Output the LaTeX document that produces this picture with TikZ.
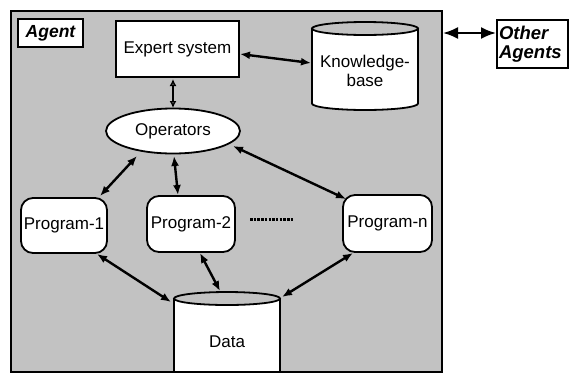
\documentclass[tikz,border=0pt]{standalone}
\usepackage{fontspec}
\setmainfont{Liberation Sans}
\usetikzlibrary{arrows.meta,shapes.geometric}
\begin{document}
\begin{tikzpicture}[x=1pt,y=-1pt,
  txt/.style={font=\fontsize{17}{18.5}\selectfont},
  lbl/.style={font=\fontsize{17.5}{17}\selectfont\bfseries\itshape},
  boxw/.style={draw,line width=1.8pt,fill=white},
  prog/.style={boxw,rounded corners=12pt,inner sep=0pt,txt},
  link/.style={line width=2.4pt,{Latex[length=10pt,width=8pt]}-{Latex[length=10pt,width=8pt]}},
  thinlink/.style={line width=1.4pt,{Latex[open,length=7pt,width=7pt]}-{Latex[open,length=7pt,width=7pt]}},
  biglink/.style={line width=2.2pt,{Latex[length=15pt,width=12pt]}-{Latex[length=15pt,width=12pt]}},
  bg/.style={fill=black!24}]
\useasboundingbox (0,0) rectangle (569,373);
% agent frame
\draw[bg,line width=1.8pt] (11,11) rectangle (442,372);
\node[boxw,lbl,minimum width=65pt,minimum height=28pt,inner sep=0pt] (agent) at (50.5,33) {Agent};
% other agents
\node[boxw,font=\fontsize{18.5}{19.5}\selectfont\bfseries\itshape,minimum width=71pt,minimum height=48pt,inner sep=1.5pt,align=left,text width=67pt] (other) at (532.5,44) {Other\\Agents};
% expert system
\node[boxw,txt,minimum width=123pt,minimum height=56pt,inner sep=0pt] (es) at (177.5,49) {Expert system};
% knowledge base cylinder
\path[boxw] (312,28.5) -- (312,103.5) arc[start angle=180,end angle=360,x radius=53pt,y radius=6.5pt] -- (418,28.5) -- cycle;
\draw[line width=1.8pt,fill=black!24] (365,28.5) ellipse [x radius=53pt,y radius=6.5pt];
\node[txt,align=center] (kb) at (365,71) {Knowledge-\\base};
% operators
\node[ellipse,boxw,txt,minimum width=134pt,minimum height=45pt,inner sep=0pt] (op) at (173,131) {Operators};
% programs
\node[prog,minimum width=86pt,minimum height=55pt] (p1) at (64,225.5) {Program-1};
\node[prog,minimum width=88pt,minimum height=56pt] (p2) at (191,224) {Program-2};
\node[prog,minimum width=89pt,minimum height=57pt] (pn) at (387.5,223.5) {Program-n};
\draw[line width=3pt,dash pattern=on 2.5pt off 1.2pt] (250,219) -- (293,219);
% data cylinder
\path[boxw] (174,298.5) -- (174,372) -- (280,372) -- (280,298.5) -- cycle;
\draw[line width=1.8pt,fill=black!24] (227,298.5) ellipse [x radius=53pt,y radius=6.5pt];
\node[txt] (data) at (227,342) {Data};
% connector endpoints
\coordinate (esE) at (240,54);
\coordinate (kbW) at (311,63);
\coordinate (esS) at (173,79);
\coordinate (opN) at (173,108);
\coordinate (opA) at (137,156);
\coordinate (p1N) at (100,196);
\coordinate (opB) at (174,156);
\coordinate (p2N) at (178,195);
\coordinate (opC) at (233,146);
\coordinate (pnN) at (346,199);
\coordinate (p1S) at (97,254);
\coordinate (dA) at (171,302);
\coordinate (p2S) at (200,253);
\coordinate (dB) at (220,291);
\coordinate (pnS) at (353,253);
\coordinate (dC) at (282,297);
\coordinate (frE) at (443,33);
\coordinate (otW) at (496,33);
% connectors
\draw[link] (esE) -- (kbW);
\draw[thinlink] (esS) -- (opN);
\draw[link] (opA) -- (p1N);
\draw[link] (opB) -- (p2N);
\draw[link] (opC) -- (pnN);
\draw[link] (p1S) -- (dA);
\draw[link] (p2S) -- (dB);
\draw[link] (pnS) -- (dC);
\draw[biglink] (frE) -- (otW);
\end{tikzpicture}
\end{document}
